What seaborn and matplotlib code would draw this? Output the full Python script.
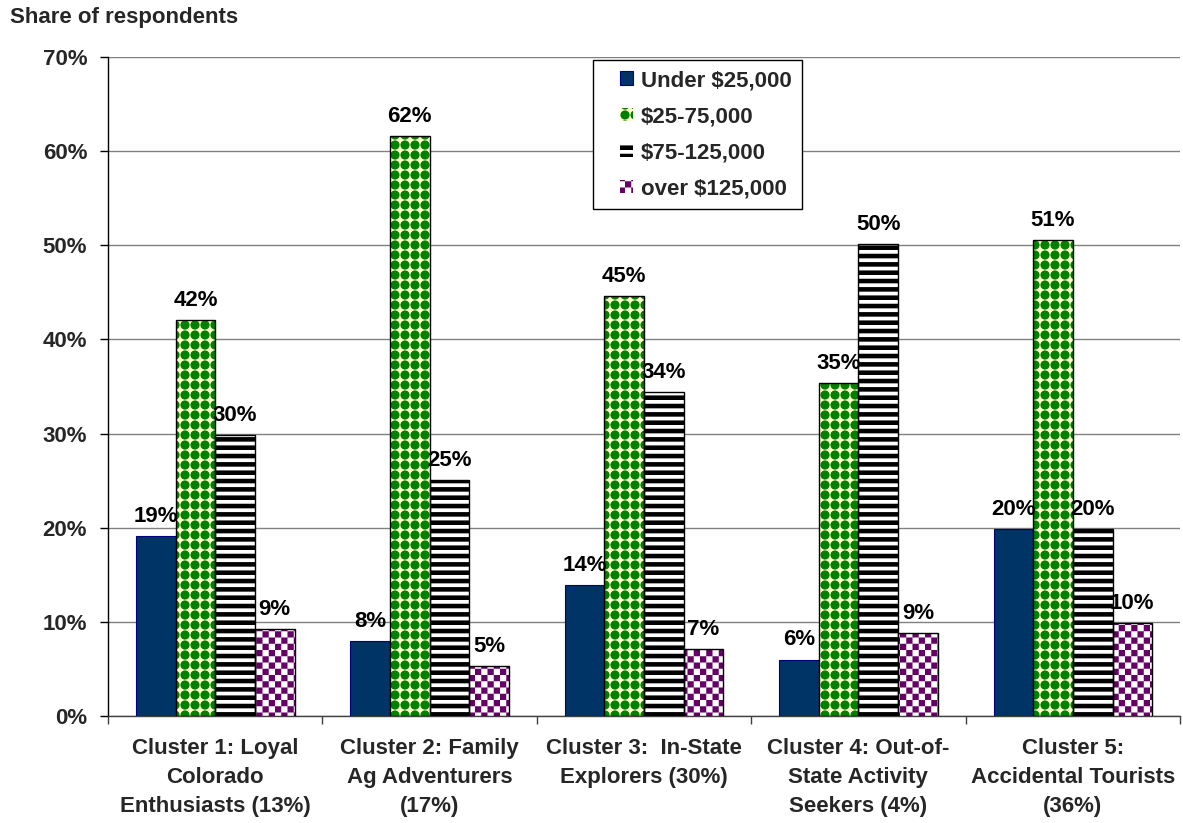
import numpy as np
import pandas as pd
import matplotlib
matplotlib.use("Agg")
import matplotlib.pyplot as plt
import matplotlib.hatch as mhatch
import matplotlib.patches as mpatches
from matplotlib.legend_handler import HandlerPatch
from matplotlib.path import Path
import seaborn as sns

# ---------------- data ----------------
clusters = ["Cluster 1", "Cluster 2", "Cluster 3", "Cluster 4", "Cluster 5"]
cluster_labels = [
    "Cluster 1: Loyal\nColorado\nEnthusiasts (13%)",
    "Cluster 2: Family\nAg Adventurers\n(17%)",
    "Cluster 3:  In-State\nExplorers (30%)",
    "Cluster 4: Out-of-\nState Activity\nSeekers (4%)",
    "Cluster 5:\nAccidental Tourists\n(36%)",
]
income_groups = ["Under $25,000", "$25-75,000", "$75-125,000", "over $125,000"]
under_25k = [19.1, 8.0, 13.9, 6.0, 19.9]
from_25k_to_75k = [42.1, 61.6, 44.6, 35.4, 50.6]
from_75k_to_125k = [29.9, 25.1, 34.4, 50.1, 19.9]
over_125k = [9.2, 5.3, 7.1, 8.8, 9.9]
y_ticks = [0, 10, 20, 30, 40, 50, 60, 70]
y_tick_labels = ["0%", "10%", "20%", "30%", "40%", "50%", "60%", "70%"]
y_title = "Share of respondents"

series = [under_25k, from_25k_to_75k, from_75k_to_125k, over_125k]
df = pd.DataFrame(
    [(c, g, v) for g, vals in zip(income_groups, series) for c, v in zip(clusters, vals)],
    columns=["cluster", "income", "share"],
)


# ---------------- custom filled hatch patterns ----------------
class StripeFill(mhatch.HatchPatternBase):
    def __init__(self, hatch, density):
        self.n = 12 if "-" in hatch else 0
        self.num_vertices = self.n * 5

    def set_vertices_and_codes(self, vertices, codes):
        step = 1.0 / self.n
        h = step * 0.55
        k = 0
        for i in range(self.n):
            y0 = i * step
            vertices[k:k + 5] = [(-0.05, y0), (1.05, y0), (1.05, y0 + h),
                                 (-0.05, y0 + h), (-0.05, y0)]
            codes[k:k + 5] = [Path.MOVETO, Path.LINETO, Path.LINETO,
                              Path.LINETO, Path.CLOSEPOLY]
            k += 5


class CheckerFill(mhatch.HatchPatternBase):
    def __init__(self, hatch, density):
        self.n = 16 if "*" in hatch else 0
        self.num_vertices = (self.n * self.n // 2) * 5

    def set_vertices_and_codes(self, vertices, codes):
        s = 1.0 / self.n
        k = 0
        for i in range(self.n):
            for j in range(self.n):
                if (i + j) % 2 == 0:
                    vertices[k:k + 5] = [(j * s, i * s), ((j + 1) * s, i * s),
                                         ((j + 1) * s, (i + 1) * s),
                                         (j * s, (i + 1) * s), (j * s, i * s)]
                    codes[k:k + 5] = [Path.MOVETO, Path.LINETO, Path.LINETO,
                                      Path.LINETO, Path.CLOSEPOLY]
                    k += 5


class DotFill(mhatch.HatchPatternBase):
    def __init__(self, hatch, density):
        self.n = 10 if "." in hatch else 0
        circ = Path.unit_circle()
        self.cv = circ.vertices
        self.cc = circ.codes
        self.num_vertices = self.n * self.n * len(self.cv)

    def set_vertices_and_codes(self, vertices, codes):
        s = 1.0 / self.n
        r = 0.46 * s
        m = len(self.cv)
        k = 0
        for i in range(self.n):
            for j in range(self.n):
                vertices[k:k + m] = self.cv * r + np.array([(j + 0.5) * s, (i + 0.5) * s])
                codes[k:k + m] = self.cc
                k += m


mhatch._hatch_types = [StripeFill, mhatch.VerticalHatch, mhatch.NorthEastHatch,
                       mhatch.SouthEastHatch, mhatch.SmallCircles,
                       mhatch.LargeCircles, DotFill, CheckerFill]

# ---------------- style ----------------
sns.set_style("white")
plt.rcParams["font.family"] = ["Liberation Sans", "DejaVu Sans"]
plt.rcParams["hatch.linewidth"] = 0.01
FS = 16

styles = [
    dict(face="#003366", hatch=None, hcolor=None, edge="#000080", lw=0.8),
    dict(face="#FFFFCC", hatch=".", hcolor="#008000", edge="black", lw=1.0),
    dict(face="white", hatch="--", hcolor="black", edge="black", lw=1.0),
    dict(face="white", hatch="*", hcolor="#660066", edge="black", lw=1.0),
]

fig = plt.figure(figsize=(11.83, 8.23), dpi=100)
ax = fig.add_axes([0.0913, 0.130, 0.9062, 0.8007])

sns.barplot(data=df, x="cluster", y="share", hue="income", order=clusters,
            hue_order=income_groups, width=0.74, errorbar=None, legend=False,
            palette=[s["face"] for s in styles], ax=ax, zorder=3)

for cont, st in zip(ax.containers, styles):
    for bar in cont:
        bar.set_facecolor(st["face"])
        if st["hatch"]:
            bar.set_edgecolor(st["hcolor"])
            bar.set_hatch(st["hatch"])
            bar.set_linewidth(0)
            ax.add_patch(mpatches.Rectangle(bar.get_xy(), bar.get_width(),
                                            bar.get_height(), fill=False,
                                            edgecolor=st["edge"], lw=st["lw"],
                                            zorder=4))
        else:
            bar.set_edgecolor(st["edge"])
            bar.set_linewidth(st["lw"])
    ax.bar_label(cont, fmt="{:.0f}%", padding=6.5, fontsize=FS,
                 fontweight="bold", color="black", zorder=5)

ax.set_xlim(-0.5, 4.5)
ax.set_ylim(0, 70)
ax.set_yticks(y_ticks)
ax.set_yticklabels(y_tick_labels, fontsize=FS, fontweight="bold")
ax.set_xticks(range(len(clusters)))
ax.set_xticklabels(cluster_labels, fontsize=FS, fontweight="bold", linespacing=1.5)
ax.set_xticks(np.arange(-0.5, 5, 1.0), minor=True)
ax.tick_params(axis="x", which="major", length=0, pad=16)
ax.tick_params(axis="x", which="minor", length=6, width=1, color="#404040",
               direction="out", bottom=True)
ax.tick_params(axis="y", which="major", length=6, width=1, color="black",
               direction="out", left=True, pad=9)
ax.set_xlabel("")
ax.set_ylabel("")
ax.yaxis.grid(True, color="#808080", lw=1, zorder=0)
ax.xaxis.grid(False)
ax.set_axisbelow(True)
for side in ["top", "right"]:
    ax.spines[side].set_visible(False)
ax.spines["left"].set_color("black")
ax.spines["left"].set_linewidth(1)
ax.spines["bottom"].set_color("#404040")
ax.spines["bottom"].set_linewidth(1)

fig.text(10 / 1183, 1 - 18 / 823, y_title, fontsize=FS, fontweight="bold",
         ha="left", va="center")

# legend
handles = []
for st in styles:
    if st["hatch"]:
        handles.append(mpatches.Patch(facecolor=st["face"], edgecolor=st["hcolor"],
                                      hatch=st["hatch"], lw=0))
    else:
        handles.append(mpatches.Patch(facecolor=st["face"], edgecolor=st["edge"], lw=0.8))


def square_patch(legend, orig_handle, xdescent, ydescent, width, height, fontsize):
    s = height
    return mpatches.Rectangle((width - s - xdescent, -ydescent), s, s)


leg = ax.legend(handles, income_groups, loc="upper left",
                bbox_to_anchor=(593 / 1183, 1 - 60 / 823),
                bbox_transform=fig.transFigure, borderaxespad=0,
                frameon=True, fancybox=False, framealpha=1, edgecolor="black",
                borderpad=0.45, labelspacing=0.68, handlelength=1.35,
                handleheight=0.55, handletextpad=0.35,
                prop=dict(size=FS, weight="bold"),
                handler_map={mpatches.Patch: HandlerPatch(patch_func=square_patch)})
leg.get_frame().set_linewidth(1)
leg.set_zorder(10)

fig.savefig("out.png", dpi=100, facecolor="white")
